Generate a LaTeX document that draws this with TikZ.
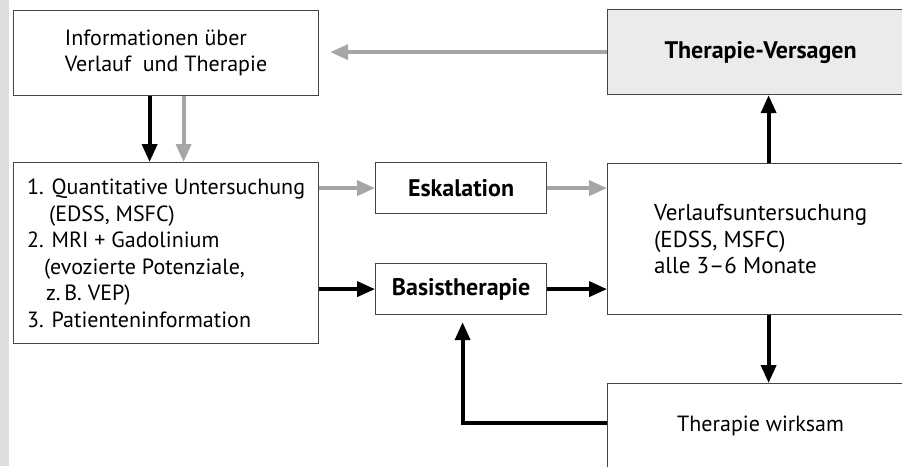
\documentclass[tikz,border=0pt]{standalone}
\usepackage{fontspec}
\setmainfont{PT Sans}
\usetikzlibrary{arrows.meta,calc}
\definecolor{arrgray}{HTML}{A6A6A6}
\definecolor{boxgray}{HTML}{EBEBEB}
\definecolor{stripgray}{HTML}{DEDEDE}
\definecolor{edge}{HTML}{444444}
\begin{document}
\begin{tikzpicture}[x=1pt,y=-1pt,
  box/.style={draw=edge, line width=1.2pt, inner sep=0pt, anchor=north west, align=left,
    font=\fontsize{22}{26.5}\selectfont},
  bbox/.style={box, font=\fontsize{24}{28}\selectfont\bfseries},
  blk/.style={line width=3.8pt, draw=black, -{Triangle[length=18pt,width=15pt]}},
  gry/.style={line width=3.8pt, draw=arrgray, -{Triangle[length=18pt,width=15pt]}}]
\clip (0,0) rectangle (902,466);
\fill[stripgray] (0,0) rectangle (9,466);
\node[box, minimum width=305pt, minimum height=85pt] (info) at (13,10)
  {Informationen über\\Verlauf \ und Therapie};
\node[box, minimum width=305pt, minimum height=181pt] (unters) at (13,162)
  {1. Quantitative Untersuchung\\
   \hspace*{22pt}(EDSS, MSFC)\\
   2. MRI + Gadolinium\\
   \hspace*{17pt}(evozierte Potenziale,\\
   \hspace*{19pt}z.\,B. VEP)\\
   3. Patienteninformation};
\node[bbox, minimum width=171pt, minimum height=51pt] (eskal) at (375,162) {Eskalation};
\node[bbox, minimum width=171pt, minimum height=51pt] (basis) at (375,263) {Basistherapie};
\node[bbox, fill=boxgray, minimum width=306pt, minimum height=85pt] (vers) at (607,9) {Therapie-Versagen};
\node[box, font=\fontsize{23}{26.5}\selectfont, minimum width=306pt, minimum height=151pt] (verl) at (607,163)
  {Verlaufsuntersuchung\\(EDSS, MSFC)\\alle 3–6 Monate};
\node[box, minimum width=306pt, minimum height=84pt] (wirk) at (607,383) {Therapie wirksam};
% arrows
\draw[gry, shorten >=11pt] (vers.west) -- (vers.west -| info.east);
\draw[blk] ([xshift=-16.5pt]info.south) -- ([xshift=-16.5pt]info.south |- unters.north);
\draw[gry] ([xshift=17.5pt]info.south) -- ([xshift=17.5pt]info.south |- unters.north);
\draw[gry] (eskal.west -| unters.east) -- (eskal.west);
\draw[gry] (eskal.east) -- (eskal.east -| verl.west);
\draw[blk] (basis.west -| unters.east) -- (basis.west);
\draw[blk] (basis.east) -- (basis.east -| verl.west);
\draw[blk] ([xshift=8pt]verl.north) -- ([xshift=8pt]verl.north |- vers.south);
\draw[blk] ([xshift=8pt]verl.south) -- ([xshift=8pt]wirk.north);
\draw[blk, shorten >=7pt] ([yshift=3pt]wirk.west) -| ([xshift=1.5pt]basis.south);
\end{tikzpicture}
\end{document}
